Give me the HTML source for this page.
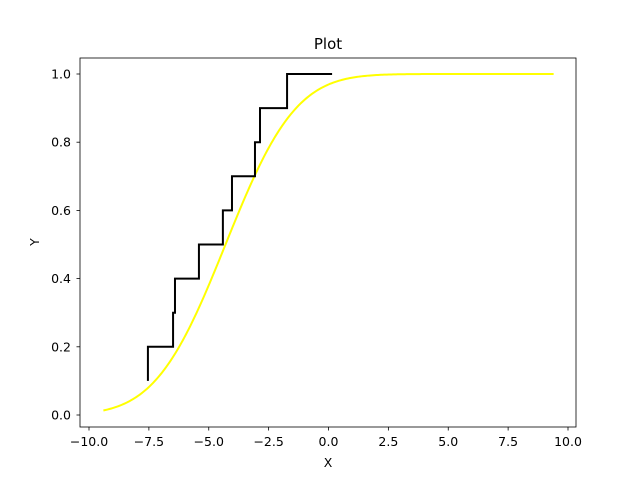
<!DOCTYPE html>
<html><head><meta charset="utf-8"><style>
body{margin:0;background:#fff}
svg text{font-family:"DejaVu Sans","Liberation Sans",sans-serif;fill:#000}
</style></head><body>
<svg id="chart" width="640" height="480" xmlns="http://www.w3.org/2000/svg">
<rect width="640" height="480" fill="#fff"/>
<g id="plot"></g>
<rect x="80" y="58" width="496" height="369" fill="none" stroke="#000" stroke-width="0.8"/>
<text x="328" y="49" font-size="15" text-anchor="middle">Plot</text>
<text x="328" y="467" font-size="12.5" text-anchor="middle">X</text>
<text x="39" y="242" font-size="12.5" text-anchor="middle" transform="rotate(-90 39 242)">Y</text>
<g id="ticks"></g>
</svg>
<script>
const xTicks=[-10,-7.5,-5,-2.5,0,2.5,5,7.5,10];
const xTickLabels=["\u221210.0","\u22127.5","\u22125.0","\u22122.5","0.0","2.5","5.0","7.5","10.0"];
const yTicks=[0,0.2,0.4,0.6,0.8,1.0];
const yTickLabels=["0.0","0.2","0.4","0.6","0.8","1.0"];
const stepX=[-7.54,-6.49,-6.41,-5.41,-4.41,-4.03,-3.07,-2.86,-1.73];
const stepY=[0.2,0.3,0.4,0.5,0.6,0.7,0.8,0.9,1.0];
const stepStartY=0.1;
const stepEndX=0.15;
const cdfMean=-4.3;
const cdfSigma=2.3;
const cdfRange=[-9.4,9.4];

const sx=v=>328.5+v*23.95;
const sy=v=>415-v*341;
const NS="http://www.w3.org/2000/svg";
const ticks=document.getElementById('ticks');
const plot=document.getElementById('plot');
function mk(tag,attrs,parent){const e=document.createElementNS(NS,tag);for(const k in attrs)e.setAttribute(k,attrs[k]);parent.appendChild(e);return e;}
xTicks.forEach((t,i)=>{
  const l=mk('line',{x1:sx(t),x2:sx(t),y1:427,y2:430.5,stroke:'#000','stroke-width':0.8},ticks);
  
  
  const tx=mk('text',{x:sx(t),y:446,'font-size':12.5,'text-anchor':'middle'},ticks);
  tx.textContent=xTickLabels[i];
  
  
});
yTicks.forEach((t,i)=>{
  const l=mk('line',{x1:76.5,x2:80,y1:sy(t),y2:sy(t),stroke:'#000','stroke-width':0.8},ticks);
  
  
  const tx=mk('text',{x:71,y:sy(t)+4.5,'font-size':12.5,'text-anchor':'end'},ticks);
  tx.textContent=yTickLabels[i];
  
  
});
function erf(x){const s=Math.sign(x);x=Math.abs(x);const t=1/(1+0.3275911*x);
const y=1-(((((1.061405429*t-1.453152027)*t)+1.421413741)*t-0.284496736)*t+0.254829592)*t*Math.exp(-x*x);return s*y;}
let d='';
for(let i=0;i<=300;i++){const x=cdfRange[0]+(cdfRange[1]-cdfRange[0])*i/300;
const y=0.5*(1+erf((x-cdfMean)/(cdfSigma*Math.SQRT2)));d+=(i?'L':'M')+sx(x).toFixed(2)+' '+sy(y).toFixed(2);}
const cdf=mk('path',{d:d,fill:'none',stroke:'#ffff00','stroke-width':2},plot);


let s='M'+sx(stepX[0])+' '+sy(stepStartY);
for(let i=0;i<stepX.length;i++){
  s+='L'+sx(stepX[i])+' '+sy(i?stepY[i-1]:stepStartY)+'L'+sx(stepX[i])+' '+sy(stepY[i]);
}
s+='L'+sx(stepEndX)+' '+sy(stepY[stepY.length-1]);
const st=mk('path',{d:s,fill:'none',stroke:'#000','stroke-width':2},plot);


</script>
</body></html>
